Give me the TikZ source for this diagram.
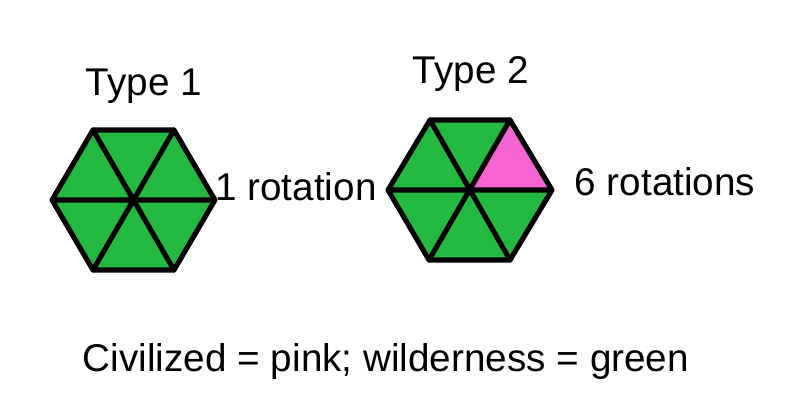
\documentclass[tikz,border=0pt]{standalone}
\usepackage{fontspec}
\setmainfont{Liberation Sans}
\definecolor{wild}{RGB}{36,186,66}
\definecolor{civ}{RGB}{245,100,208}

\begin{document}
\begin{tikzpicture}[x=0.75pt,y=-0.75pt,
  edge/.style={line width=3.8pt,line join=round,line cap=round},
  lbl/.style={font=\fontsize{29}{34}\selectfont,inner sep=0pt,anchor=base}]
  \useasboundingbox (0,0) rectangle (800,400);
  % type 1 tile
  \coordinate (a0) at (133,200);
  \foreach \i/\x/\y in {1/215/200,2/174/130,3/93/130,4/52/200,5/93/270,6/174/270}
    \coordinate (a\i) at (\x,\y);
  \fill[wild] (a1) -- (a2) -- (a3) -- (a4) -- (a5) -- (a6) -- cycle;
  \draw[edge] (a1) -- (a2) -- (a3) -- (a4) -- (a5) -- (a6) -- cycle;
  \draw[edge] (a1) -- (a4) (a2) -- (a5) (a3) -- (a6);
  % type 2 tile
  \coordinate (b0) at (470,190);
  \foreach \i/\x/\y in {1/552/190,2/510/120,3/430/120,4/388/190,5/429/260,6/510/260}
    \coordinate (b\i) at (\x,\y);
  \fill[wild] (b1) -- (b2) -- (b3) -- (b4) -- (b5) -- (b6) -- cycle;
  \fill[civ] (b0) -- (b1) -- (b2) -- cycle;
  \draw[edge] (b1) -- (b2) -- (b3) -- (b4) -- (b5) -- (b6) -- cycle;
  \draw[edge] (b1) -- (b4) (b2) -- (b5) (b3) -- (b6);
  % labels
  \node[lbl] (t1) at (144,95) {Type 1};
  \node[lbl] (t2) at (471,83) {Type 2};
  \node[lbl] (rot1) at (296,200) {1 rotation};
  \node[lbl] (rot6) at (665,195) {6 rotations};
  \node[lbl] (legend) at (386,371) {Civilized = pink; wilderness = green};
\end{tikzpicture}
\end{document}
